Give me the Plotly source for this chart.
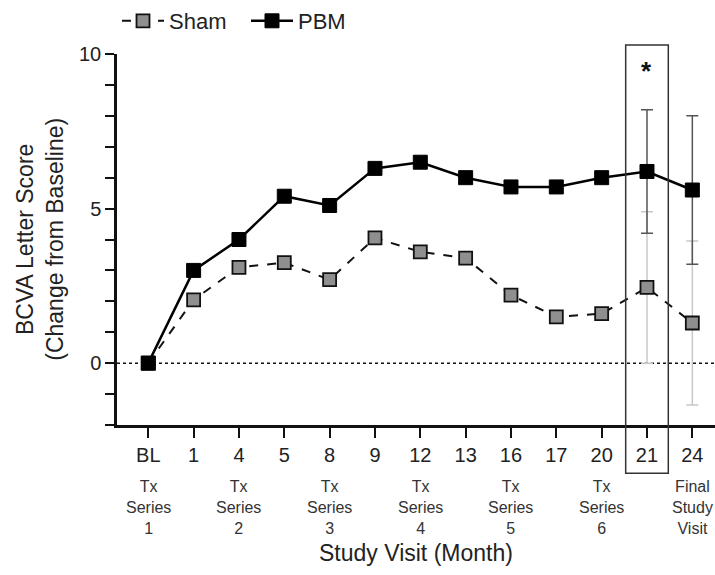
import plotly.graph_objects as go

visits = ["BL", "1", "4", "5", "8", "9", "12", "13", "16", "17", "20", "21", "24"]
sham = [0, 2.05, 3.1, 3.25, 2.7, 4.05, 3.6, 3.4, 2.2, 1.5, 1.6, 2.45, 1.3]
pbm = [0, 3.0, 4.0, 5.4, 5.1, 6.3, 6.5, 6.0, 5.7, 5.7, 6.0, 6.2, 5.6]
sham_err = [None] * 11 + [2.45, 2.65]
pbm_err = [None] * 11 + [2.0, 2.4]
series_labels = {
    "BL": "Tx<br>Series<br>1",
    "4": "Tx<br>Series<br>2",
    "8": "Tx<br>Series<br>3",
    "12": "Tx<br>Series<br>4",
    "16": "Tx<br>Series<br>5",
    "20": "Tx<br>Series<br>6",
    "24": "Final<br>Study<br>Visit",
}
highlight_visit = "21"

FONT = "Arial, Liberation Sans, sans-serif"

fig = go.Figure()
fig.add_trace(go.Scatter(
    x=visits, y=sham, name="Sham", mode="lines+markers",
    line=dict(color="#111", width=2, dash="dash"),
    marker=dict(symbol="square", size=13, color="#8f8f8f", line=dict(color="#111", width=1.8)),
    error_y=dict(type="data", array=sham_err, color="#c8c8c8", thickness=1.5, width=6),
))
fig.add_trace(go.Scatter(
    x=visits, y=pbm, name="PBM", mode="lines+markers",
    line=dict(color="#000", width=2.5),
    marker=dict(symbol="square", size=14, color="#000", line=dict(color="#000", width=1)),
    error_y=dict(type="data", array=pbm_err, color="#555", thickness=1.5, width=6),
))

# dotted baseline
fig.add_hline(y=0, line=dict(color="#111", width=1.5, dash="dot"), layer="below")

# highlight box around visit 21
idx = visits.index(highlight_visit)
fig.add_shape(type="rect", xref="x", yref="paper",
              x0=idx - 0.47, x1=idx + 0.47, y0=-0.13, y1=1.024,
              line=dict(color="#333", width=1.5), layer="above")
fig.add_annotation(x=idx, y=9.45, xref="x", yref="y", text="<b>*</b>",
                   showarrow=False, font=dict(size=26, color="#111", family=FONT))

for v, t in series_labels.items():
    fig.add_annotation(x=visits.index(v), y=-0.137, xref="x", yref="paper", text=t,
                       showarrow=False, yanchor="top",
                       font=dict(size=16, color="#333", family=FONT))

fig.add_annotation(x=-0.13, y=0.5, xref="paper", yref="paper", xanchor="center",
                   yanchor="middle",
                   text="BCVA Letter Score<br>(Change from Baseline)", textangle=-90,
                   showarrow=False, font=dict(size=23, color="#222", family=FONT))
fig.add_annotation(x=0.5, y=-0.345, xref="paper", yref="paper", text="Study Visit (Month)",
                   showarrow=False, yanchor="middle", font=dict(size=23, color="#222", family=FONT))

fig.update_layout(
    width=715, height=575,
    margin=dict(l=117, r=0, t=52, b=150),
    plot_bgcolor="white", paper_bgcolor="white",
    font=dict(family=FONT, color="#222", size=16),
    showlegend=True,
    legend=dict(orientation="h", x=0.0, y=1.09, xanchor="left", yanchor="middle",
                font=dict(size=22, color="#222"), itemwidth=42,
                entrywidth=72, entrywidthmode="pixels",
                bgcolor="rgba(0,0,0,0)"),
    xaxis=dict(type="category", categoryorder="array", categoryarray=visits,
               range=[-0.69, 12.5], showline=True, linecolor="#111", linewidth=2.5,
               ticks="outside", ticklen=10, tickwidth=2, tickcolor="#111",
               tickfont=dict(size=20, color="#222"), showgrid=False, zeroline=False),
    yaxis=dict(range=[-2, 10], tickvals=[0, 5, 10], showline=True, linecolor="#111",
               linewidth=2.5, ticks="outside", ticklen=9, tickwidth=2, tickcolor="#111",
               minor=dict(dtick=1, ticks="outside", ticklen=9, tickwidth=2, tickcolor="#111"),
               tickfont=dict(size=20, color="#222"), showgrid=False, zeroline=False),
)

fig.write_html("out.html")
